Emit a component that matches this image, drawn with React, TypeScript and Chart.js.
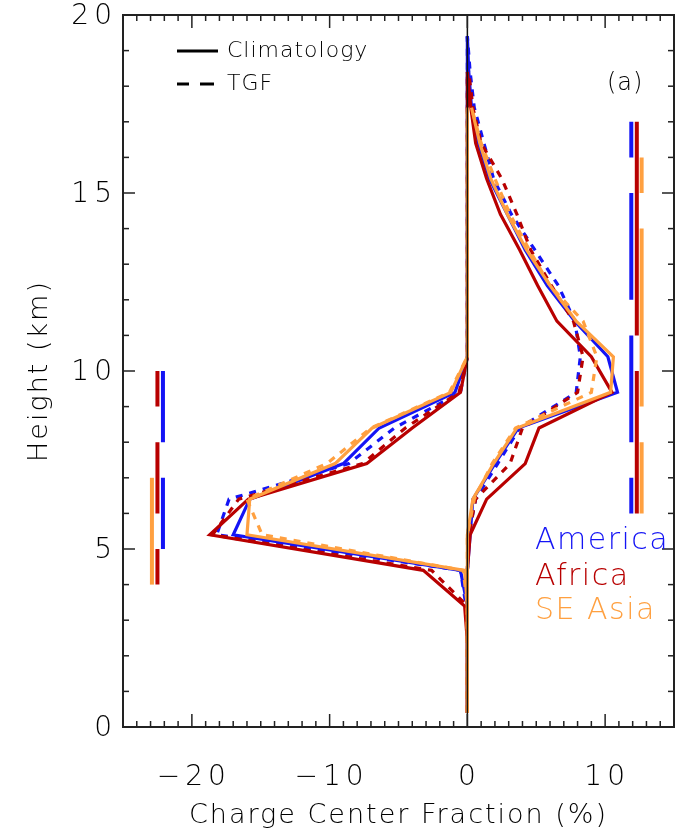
import React, { useEffect, useRef } from "react";
import { Chart, registerables } from "chart.js";

Chart.register(...registerables);

// ---------------- DATA ----------------
// Heights (km) of the profile bins
const heights = [0.4, 1.4, 2.4, 3.4, 4.4, 5.4, 6.4, 7.4, 8.4, 9.4, 10.4, 11.4, 12.4, 13.4, 14.4, 15.4, 16.4, 17.4, 18.4, 19.4];

// Charge center fraction (%) — negative (lower) and positive (upper) charge profiles
const americaClimNeg = [0, 0, 0, 0, -0.5, -17.0, -15.8, -9.0, -6.4, -0.9, 0, 0, 0, 0, 0, 0, 0, 0, 0, 0];
const americaClimPos = [0, 0, 0, 0, 0, 0.2, 0.4, 2.0, 3.7, 10.9, 10.2, 7.8, 5.8, 4.2, 2.9, 1.6, 0.8, 0.3, 0.1, 0];
const americaTgfNeg = [0, 0, 0, -0.1, -0.5, -18.2, -17.3, -8.6, -5.3, -0.5, 0, 0, 0, 0, 0, 0, 0, 0, 0, 0];
const americaTgfPos = [0, 0, 0, 0, 0, 0.1, 0.6, 2.2, 3.8, 7.9, 8.2, 7.8, 6.6, 4.9, 3.2, 1.9, 1.2, 0.5, 0.2, 0];

const africaClimNeg = [0, 0, 0, -0.2, -3.2, -18.7, -15.9, -7.3, -4.0, -0.5, 0, 0, 0, 0, 0, 0, 0, 0, 0, null];
const africaClimPos = [0, 0, 0, 0, 0, 0.2, 1.4, 4.2, 5.2, 10.5, 9.0, 6.5, 5.1, 3.8, 2.4, 1.4, 0.6, 0.25, 0, null];
const africaTgfNeg = [0, 0, 0, 0, -2.6, -18.5, -16.6, -7.6, -4.5, -0.6, 0, 0, 0, 0, 0, 0, 0, 0, 0, null];
const africaTgfPos = [0, 0, 0, 0, 0, 0.1, 0.6, 3.1, 4.0, 8.0, 8.4, 7.7, 6.1, 4.6, 3.6, 2.5, 1.0, 0.4, 0.1, null];

const asiaClimNeg = [0, 0, 0, 0, -0.2, -16.0, -15.8, -9.6, -6.9, -1.2, 0, 0, 0, 0, 0, 0, 0, 0, null, null];
const asiaClimPos = [0, 0, 0, 0, 0, 0, 0.4, 1.9, 3.6, 10.4, 10.6, 7.9, 6.0, 4.3, 2.9, 1.7, 0.9, 0.3, null, null];
const asiaTgfNeg = [0, 0, 0, 0, -0.3, -14.9, -16.0, -10.2, -7.0, -1.3, 0, 0, 0, 0, 0, 0, 0, 0, null, null];
const asiaTgfPos = [0, 0, 0, 0, 0, 0, 0.5, 1.8, 3.5, 9.0, 9.4, 8.4, 6.0, 4.5, 3.1, 2.0, 1.0, 0.3, null, null];

// Height ranges (km) shown as vertical bars, with their x positions (%)
const leftBarX = { america: -22.1, africa: -22.5, asia: -22.9 };
const rightBarX = { america: 11.9, africa: 12.3, asia: 12.65 };
const americaLeftBars = [[8, 10], [5, 7]];
const africaLeftBars = [[9, 10], [6, 8], [4, 5]];
const asiaLeftBars = [[4, 7]];
const americaRightBars = [[16, 17], [12, 15], [8, 11], [6, 7]];
const africaRightBars = [[11, 17], [6, 10]];
const asiaRightBars = [[15, 16], [9, 14], [6, 8]];

// Axes
const xMin = -25;
const xMax = 15;
const yMin = 0;
const yMax = 20;
const xTickValues = [-20, -10, 0, 10];
const xTickLabels = ["\u221220", "\u221210", "0", "10"];
const yTickValues = [0, 5, 10, 15, 20];
const yTickLabels = ["0", "5", "10", "15", "20"];
const regionNames = ["America", "Africa", "SE Asia"];

// ---------------- STYLE ----------------
const BLUE = "#1414f5";
const RED = "#b80000";
const ORANGE = "#ffa040";
const FONT = '"DejaVu Sans", sans-serif';
const W = "200";
const TEXT = "#000";

function profile(vals: (number | null)[]) {
  const pts: { x: number; y: number }[] = [];
  vals.forEach((v, i) => {
    if (v !== null) pts.push({ x: v, y: heights[i] });
  });
  return pts;
}

function bars(x: number, segs: number[][]) {
  const pts: { x: number; y: number | null }[] = [];
  segs.forEach(([a, b]) => {
    pts.push({ x, y: a }, { x, y: b }, { x, y: null });
  });
  return pts;
}

function lineDs(data: any, color: string, dashed: boolean, order: number, width = 3.2) {
  return {
    data,
    borderColor: color,
    backgroundColor: color,
    borderWidth: width,
    borderDash: dashed ? [7, 7] : [],
    pointRadius: 0,
    tension: 0,
    fill: false,
    spanGaps: false,
    order,
    borderCapStyle: "butt",
    borderJoinStyle: "miter",
  };
}

const axesPlugin = {
  id: "idlAxes",
  afterDatasetsDraw(chart: any) {
    const ctx = chart.ctx;
    const xs = chart.scales.x;
    const { top, bottom } = chart.chartArea;
    ctx.save();
    ctx.strokeStyle = "#111";
    ctx.lineWidth = 1.5;
    const px = xs.getPixelForValue(0);
    ctx.beginPath();
    ctx.moveTo(px, top);
    ctx.lineTo(px, bottom);
    ctx.stroke();
    ctx.restore();
  },
  afterDraw(chart: any) {
    const ctx = chart.ctx;
    const xs = chart.scales.x;
    const ys = chart.scales.y;
    const { left, right, top, bottom } = chart.chartArea;
    ctx.save();
    ctx.strokeStyle = "#222";
    ctx.lineWidth = 2;
    ctx.strokeRect(left, top, right - left, bottom - top);
    ctx.lineWidth = 1.5;
    const seg = (x1: number, y1: number, x2: number, y2: number) => {
      ctx.beginPath();
      ctx.moveTo(x1, y1);
      ctx.lineTo(x2, y2);
      ctx.stroke();
    };
    for (let v = xMin; v <= xMax; v++) {
      const len = xTickValues.includes(v) ? 13 : 6;
      const p = xs.getPixelForValue(v);
      seg(p, bottom, p, bottom - len);
      seg(p, top, p, top + len);
    }
    for (let v = yMin; v <= yMax; v++) {
      const len = v % 5 === 0 ? 12 : 6;
      const p = ys.getPixelForValue(v);
      seg(left, p, left + len, p);
      seg(right, p, right - len, p);
    }

    // tick labels
    ctx.fillStyle = TEXT;
    ctx.font = `${W} 28px ${FONT}`;
    (ctx as any).letterSpacing = "5px";
    ctx.textAlign = "center";
    ctx.textBaseline = "middle";
    xTickValues.forEach((v, i) => {
      ctx.fillText(xTickLabels[i], xs.getPixelForValue(v) + 2, 778);
    });
    ctx.textAlign = "right";
    yTickValues.forEach((v, i) => {
      ctx.fillText(yTickLabels[i], left - 6, ys.getPixelForValue(v) + 2);
    });

    // axis titles
    (ctx as any).letterSpacing = "2px";
    ctx.textAlign = "center";
    ctx.font = `${W} 27px ${FONT}`;
    ctx.fillText("Charge Center Fraction (%)", (left + right) / 2, 816);
    ctx.save();
    ctx.translate(40, (top + bottom) / 2);
    ctx.rotate(-Math.PI / 2);
    ctx.fillText("Height (km)", 0, 0);
    ctx.restore();

    // legend
    (ctx as any).letterSpacing = "1px";
    ctx.strokeStyle = "#000";
    ctx.lineWidth = 3;
    seg(177, 51, 218, 51);
    seg(177, 84, 189, 84);
    seg(200, 84, 214, 84);
    ctx.textAlign = "left";
    ctx.font = `${W} 22px ${FONT}`;
    ctx.fillText("Climatology", 227, 51);
    ctx.fillText("TGF", 227, 84);
    ctx.font = `${W} 24px ${FONT}`;
    ctx.fillText("(a)", 607, 84);

    // region labels
    (ctx as any).letterSpacing = "1.5px";
    ctx.font = `${W} 30px ${FONT}`;
    const cols = [BLUE, RED, ORANGE];
    const ys2 = [541, 577, 611];
    regionNames.forEach((n, i) => {
      ctx.fillStyle = cols[i];
      ctx.fillText(n, 535, ys2[i]);
    });
    ctx.restore();
  },
};

export default function App() {
  const ref = useRef<HTMLCanvasElement | null>(null);
  useEffect(() => {
    if (!ref.current) return;
    const datasets: any[] = [
      lineDs(profile(americaClimNeg), BLUE, false, 3),
      lineDs(profile(americaClimPos), BLUE, false, 3),
      lineDs(profile(americaTgfNeg), BLUE, true, 3),
      lineDs(profile(americaTgfPos), BLUE, true, 3),
      lineDs(profile(africaClimNeg), RED, false, 2),
      lineDs(profile(africaClimPos), RED, false, 2),
      lineDs(profile(africaTgfNeg), RED, true, 2),
      lineDs(profile(africaTgfPos), RED, true, 2),
      lineDs(profile(asiaClimNeg), ORANGE, false, 1),
      lineDs(profile(asiaClimPos), ORANGE, false, 1),
      lineDs(profile(asiaTgfNeg), ORANGE, true, 1),
      lineDs(profile(asiaTgfPos), ORANGE, true, 1),
      lineDs(bars(leftBarX.america, americaLeftBars), BLUE, false, 0, 4),
      lineDs(bars(leftBarX.africa, africaLeftBars), RED, false, 0, 4),
      lineDs(bars(leftBarX.asia, asiaLeftBars), ORANGE, false, 0, 4),
      lineDs(bars(rightBarX.america, americaRightBars), BLUE, false, 0, 4),
      lineDs(bars(rightBarX.africa, africaRightBars), RED, false, 0, 4),
      lineDs(bars(rightBarX.asia, asiaRightBars), ORANGE, false, 0, 4),
    ];
    const chart = new Chart(ref.current, {
      type: "line",
      data: { datasets },
      options: {
        animation: false,
        responsive: false,
        maintainAspectRatio: false,
        indexAxis: "y",
        layout: { padding: { left: 123, right: 3, top: 15, bottom: 109 } },
        scales: {
          x: { type: "linear", min: xMin, max: xMax, display: false },
          y: { type: "linear", min: yMin, max: yMax, display: false },
        },
        plugins: { legend: { display: false }, tooltip: { enabled: false } },
        elements: { point: { radius: 0 } },
      },
      plugins: [axesPlugin],
    } as any);
    return () => chart.destroy();
  }, []);
  return (
    <div style={{ position: "absolute", left: 0, top: 0, width: 677, height: 836, background: "#fff" }}>
      <canvas ref={ref} width={677} height={836} style={{ display: "block" }} />
    </div>
  );
}
